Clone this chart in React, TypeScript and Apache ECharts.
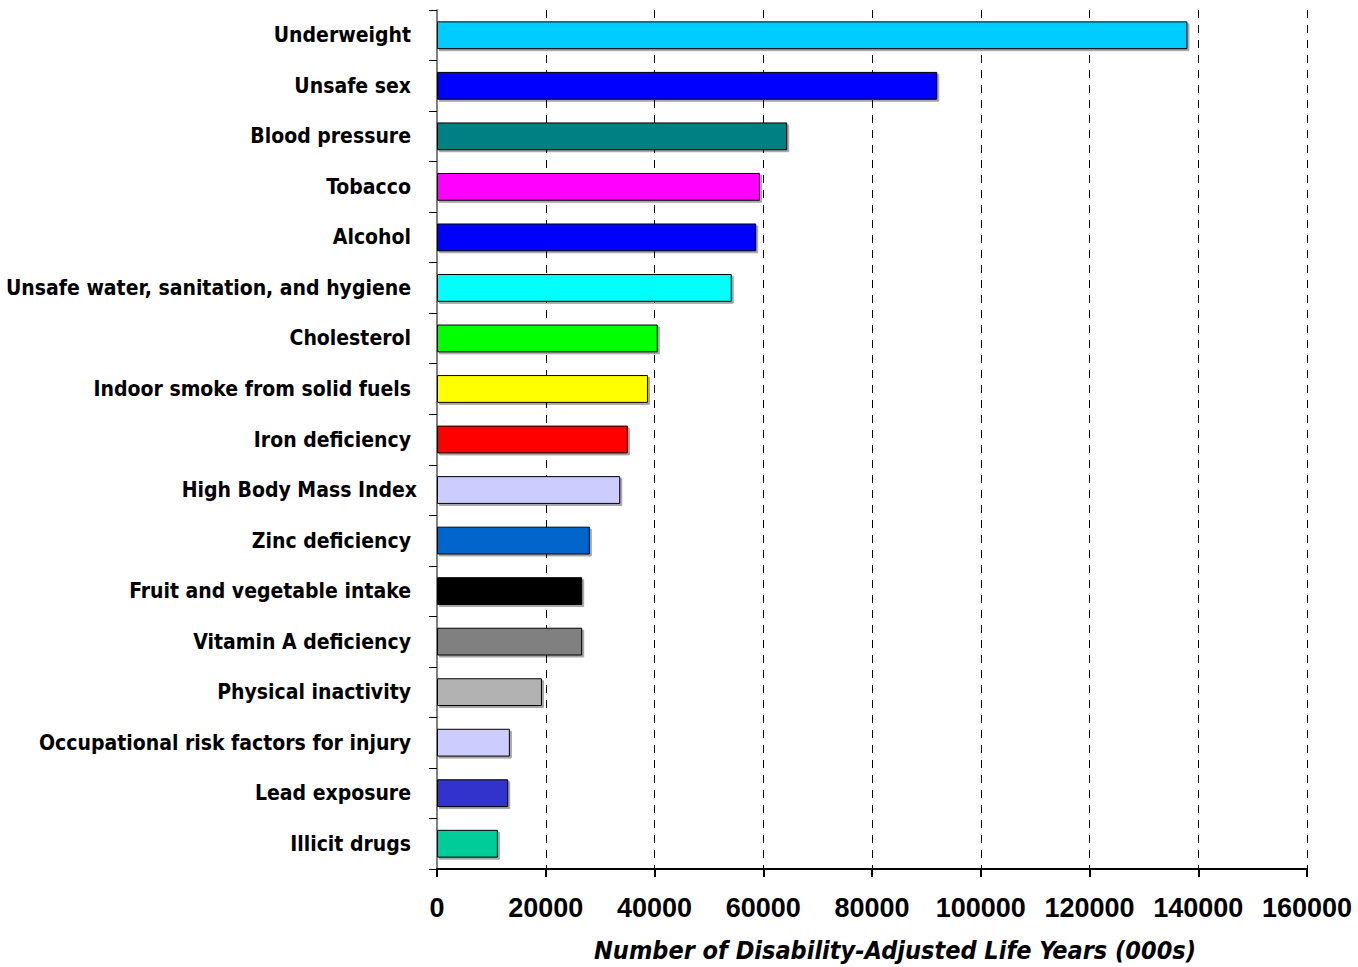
import React, { useEffect, useRef } from "react";
import * as echarts from "echarts";

const categories = [
  "Underweight",
  "Unsafe sex",
  "Blood pressure",
  "Tobacco",
  "Alcohol",
  "Unsafe water, sanitation, and hygiene",
  "Cholesterol",
  "Indoor smoke from solid fuels",
  "Iron deficiency",
  "High Body Mass Index",
  "Zinc deficiency",
  "Fruit and vegetable intake",
  "Vitamin A deficiency",
  "Physical inactivity",
  "Occupational risk factors for injury",
  "Lead exposure",
  "Illicit drugs",
];

const dalys = [
  138000, 92000, 64400, 59400, 58700, 54200, 40600, 38800, 35100, 33700, 28100,
  26700, 26700, 19300, 13400, 13100, 11200,
];

const barColors = [
  "#00CCFF", "#0000FF", "#008080", "#FF00FF", "#0000FF", "#00FFFF", "#00FF00",
  "#FFFF00", "#FF0000", "#CCCCFF", "#0066CC", "#000000", "#808080", "#B2B2B2",
  "#CCCCFF", "#3333CC", "#00CC99",
];

const xTicks = { min: 0, max: 160000, interval: 20000 };
const axisTitle = "Number of Disability-Adjusted Life Years (000s)";

const narrow = "'Liberation Sans Narrow', 'DejaVu Sans Condensed', 'Arial Narrow', sans-serif";

export default function App() {
  const ref = useRef<HTMLDivElement>(null);
  useEffect(() => {
    if (!ref.current) return;
    const chart = echarts.init(ref.current, null, { renderer: "svg" });
    chart.setOption({
      animation: false,
      backgroundColor: "#ffffff",
      grid: {
        left: 437,
        right: 51,
        top: 10,
        bottom: 98,
        containLabel: false,
        outerBoundsMode: "none",
      },
      xAxis: {
        type: "value",
        min: xTicks.min,
        max: xTicks.max,
        interval: xTicks.interval,
        axisLine: { show: true, lineStyle: { color: "#000", width: 2 } },
        axisTick: { show: true, length: 8, inside: false, lineStyle: { color: "#000", width: 2 } },
        axisLabel: {
          margin: 25,
          color: "#000",
          fontFamily: "'Liberation Sans', Arial, sans-serif",
          fontWeight: "bold",
          fontSize: 27,
          formatter: (v: number) => String(v),
        },
        splitLine: {
          show: true,
          lineStyle: { color: "#000", width: 1, type: [8, 7] },
        },
      },
      yAxis: {
        type: "category",
        inverse: true,
        data: categories.map((c) =>
          c === "High Body Mass Index"
            ? { value: c, textStyle: { padding: [0, 0, 0, 0] } }
            : c
        ),
        axisLine: { show: true, lineStyle: { color: "#808080", width: 2 } },
        axisTick: { show: true, length: 8, lineStyle: { color: "#000", width: 1 } },
        axisLabel: {
          margin: 20,
          padding: [0, 6, 0, 0],
          color: "#000",
          fontFamily: narrow,
          fontWeight: "bold",
          fontSize: 21,
        },
        splitLine: { show: false },
      },
      series: [
        {
          type: "bar",
          barCategoryGap: "45%",
          data: dalys.map((v, i) => ({
            value: v,
            itemStyle: { color: barColors[i] },
          })),
          itemStyle: {
            borderColor: "#000",
            borderWidth: 1,
            shadowColor: "rgba(0,0,0,0.35)",
            shadowOffsetX: 2,
            shadowOffsetY: 2,
            shadowBlur: 0,
          },
        },
      ],
      graphic: [
        {
          type: "text",
          x: 895,
          y: 950,
          style: {
            text: axisTitle,
            fontFamily: narrow,
            fontWeight: "bold",
            fontStyle: "italic",
            fontSize: 25,
            fill: "#000",
            align: "center",
            verticalAlign: "middle",
          },
        },
      ],
    });
    return () => chart.dispose();
  }, []);
  return (
    <div
      ref={ref}
      style={{ position: "fixed", left: 0, top: 0, width: 1358, height: 967 }}
    />
  );
}
